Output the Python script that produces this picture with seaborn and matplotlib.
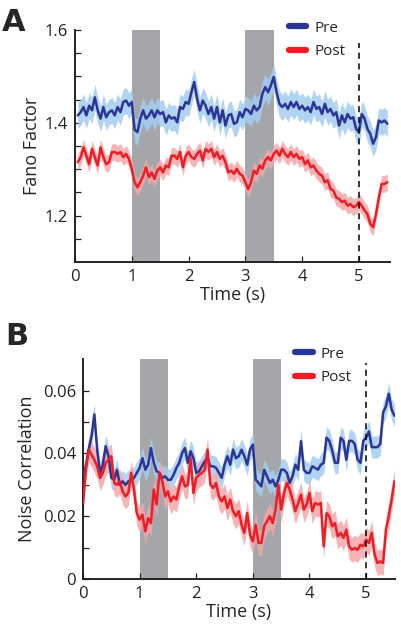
import numpy as np
import pandas as pd
import matplotlib
matplotlib.use("Agg")
import matplotlib.pyplot as plt
import seaborn as sns
from matplotlib.lines import Line2D

# ---------------- data ----------------
time_a = [round(0.05 * i, 2) for i in range(1, 111)]
fano_pre = [1.416, 1.423, 1.434, 1.416, 1.437, 1.427, 1.455, 1.427, 1.409, 1.434,
            1.412, 1.423, 1.427, 1.416, 1.434, 1.423, 1.445, 1.448, 1.437, 1.445,
            1.385, 1.380, 1.409, 1.427, 1.409, 1.416, 1.427, 1.412, 1.427, 1.419,
            1.423, 1.401, 1.416, 1.409, 1.412, 1.401, 1.434, 1.430, 1.445, 1.441,
            1.466, 1.488, 1.452, 1.427, 1.448, 1.437, 1.419, 1.434, 1.409, 1.434,
            1.401, 1.427, 1.394, 1.416, 1.419, 1.398, 1.401, 1.423, 1.412, 1.430,
            1.427, 1.419, 1.437, 1.427, 1.434, 1.463, 1.477, 1.466, 1.481, 1.499,
            1.466, 1.441, 1.434, 1.441, 1.430, 1.445, 1.434, 1.445, 1.430, 1.437,
            1.427, 1.434, 1.423, 1.445, 1.430, 1.434, 1.419, 1.441, 1.423, 1.430,
            1.416, 1.423, 1.394, 1.416, 1.401, 1.419, 1.409, 1.412, 1.387, 1.380,
            1.419, 1.409, 1.387, 1.376, 1.355, 1.369, 1.405, 1.401, 1.405, 1.398]
fano_post = [1.315, 1.326, 1.347, 1.329, 1.311, 1.344, 1.326, 1.308, 1.347, 1.326,
             1.311, 1.315, 1.337, 1.337, 1.333, 1.337, 1.326, 1.333, 1.322, 1.301,
             1.272, 1.261, 1.272, 1.286, 1.304, 1.283, 1.293, 1.279, 1.297, 1.304,
             1.293, 1.308, 1.304, 1.329, 1.329, 1.322, 1.337, 1.304, 1.329, 1.337,
             1.326, 1.322, 1.333, 1.340, 1.319, 1.344, 1.337, 1.344, 1.326, 1.337,
             1.322, 1.329, 1.315, 1.293, 1.297, 1.290, 1.301, 1.290, 1.286, 1.272,
             1.257, 1.272, 1.297, 1.290, 1.308, 1.301, 1.319, 1.326, 1.319, 1.333,
             1.340, 1.329, 1.344, 1.333, 1.326, 1.337, 1.326, 1.333, 1.322, 1.326,
             1.311, 1.319, 1.304, 1.308, 1.297, 1.290, 1.286, 1.272, 1.276, 1.257,
             1.254, 1.239, 1.236, 1.229, 1.232, 1.221, 1.225, 1.218, 1.221, 1.229,
             1.221, 1.211, 1.203, 1.182, 1.175, 1.203, 1.239, 1.268, 1.268, 1.272]
fano_pre_sem = 0.028
fano_post_sem = 0.018

time_b = [round(0.05 * i, 2) for i in range(0, 111)]
nc_pre = [0.0327, 0.0359, 0.0412, 0.0454, 0.0524, 0.0412, 0.0338, 0.0364, 0.0423, 0.0391,
          0.0322, 0.0316, 0.0348, 0.0300, 0.0311, 0.0300, 0.0311, 0.0316, 0.0322, 0.0338,
          0.0354, 0.0385, 0.0348, 0.0364, 0.0417, 0.0370, 0.0343, 0.0338, 0.0322, 0.0327,
          0.0316, 0.0316, 0.0332, 0.0354, 0.0370, 0.0401, 0.0417, 0.0370, 0.0407, 0.0385,
          0.0338, 0.0343, 0.0359, 0.0375, 0.0385, 0.0359, 0.0359, 0.0354, 0.0338, 0.0322,
          0.0364, 0.0391, 0.0364, 0.0412, 0.0385, 0.0391, 0.0412, 0.0391, 0.0364, 0.0412,
          0.0428, 0.0316, 0.0306, 0.0295, 0.0348, 0.0327, 0.0306, 0.0316, 0.0295, 0.0316,
          0.0348, 0.0348, 0.0338, 0.0306, 0.0327, 0.0364, 0.0348, 0.0439, 0.0348, 0.0338,
          0.0338, 0.0359, 0.0354, 0.0348, 0.0364, 0.0370, 0.0450, 0.0440, 0.0410, 0.0370,
          0.0370, 0.0450, 0.0440, 0.0380, 0.0440, 0.0440, 0.0430, 0.0380, 0.0370, 0.0440,
          0.0450, 0.0470, 0.0420, 0.0420, 0.0420, 0.0430, 0.0530, 0.0550, 0.0590, 0.0540,
          0.0520]
nc_post = [0.0242, 0.0348, 0.0412, 0.0396, 0.0380, 0.0359, 0.0322, 0.0338, 0.0370, 0.0380,
           0.0391, 0.0306, 0.0300, 0.0311, 0.0279, 0.0263, 0.0274, 0.0338, 0.0285, 0.0210,
           0.0189, 0.0205, 0.0152, 0.0194, 0.0178, 0.0285, 0.0237, 0.0338, 0.0311, 0.0263,
           0.0279, 0.0247, 0.0263, 0.0253, 0.0295, 0.0327, 0.0295, 0.0300, 0.0385, 0.0274,
           0.0322, 0.0332, 0.0338, 0.0348, 0.0412, 0.0300, 0.0290, 0.0306, 0.0263, 0.0247,
           0.0263, 0.0226, 0.0253, 0.0216, 0.0200, 0.0216, 0.0173, 0.0147, 0.0210, 0.0141,
           0.0120, 0.0173, 0.0115, 0.0115, 0.0168, 0.0184, 0.0200, 0.0178, 0.0221, 0.0300,
           0.0221, 0.0274, 0.0306, 0.0285, 0.0253, 0.0216, 0.0242, 0.0269, 0.0221, 0.0237,
           0.0274, 0.0216, 0.0242, 0.0237, 0.0242, 0.0104, 0.0210, 0.0200, 0.0168, 0.0178,
           0.0136, 0.0147, 0.0131, 0.0157, 0.0104, 0.0093, 0.0099, 0.0093, 0.0109, 0.0104,
           0.0125, 0.0115, 0.0147, 0.0078, 0.0051, 0.0056, 0.0051, 0.0157, 0.0200, 0.0253,
           0.0311]
nc_pre_sem = 0.0035
nc_post_sem = 0.0040

stim_windows = [(1.0, 1.5), (3.0, 3.5)]
series_names = ["Pre", "Post"]

# ---------------- style ----------------
sns.set_style("ticks")
plt.rcParams["font.family"] = ["Open Sans", "DejaVu Sans"]
plt.rcParams["xtick.direction"] = "in"
plt.rcParams["ytick.direction"] = "in"

line_colors = {"Pre": "#2b3595", "Post": "#ee1c25"}
band_colors = {"Pre": "#a3cdf0", "Post": "#f5a7aa"}
shade_color = "#a5a6a9"

fig = plt.figure(figsize=(4.01, 6.28), dpi=100)
axA = fig.add_axes([0.187, 0.583, 0.786, 0.369])
axB = fig.add_axes([0.207, 0.078, 0.778, 0.350])


def draw_panel(ax, t, pre, post, pre_sem, post_sem, ylim, xlim, dash_top):
    df = pd.DataFrame({
        "Time": list(t) * 2,
        "Value": list(pre) + list(post),
        "Condition": ["Pre"] * len(t) + ["Post"] * len(t),
    })
    for lo, hi in stim_windows:
        ax.axvspan(lo, hi, color=shade_color, lw=0, zorder=0)
    sems = {"Pre": pre_sem, "Post": post_sem}
    for name in series_names:
        sub = df[df["Condition"] == name]
        ax.fill_between(sub["Time"], sub["Value"] - sems[name], sub["Value"] + sems[name],
                        color=band_colors[name], alpha=0.85, lw=0, zorder=1)
    sns.lineplot(data=df, x="Time", y="Value", hue="Condition",
                 palette=line_colors, lw=1.8, ax=ax, legend=False, zorder=3)
    ax.set_xlim(*xlim)
    ax.set_ylim(*ylim)
    ax.axvline(5.0, ymin=0, ymax=dash_top, color="black", ls=(0, (4, 3)), lw=1.1,
               zorder=4)
    sns.despine(ax=ax)
    for s in ["left", "bottom"]:
        ax.spines[s].set_linewidth(1.4)
        ax.spines[s].set_color("#222222")
    ax.tick_params(axis="both", length=4, width=0.9, labelsize=12, colors="#222222",
                   pad=5)
    ax.tick_params(axis="y", which="minor", length=4, width=0.9, direction="in")
    ax.set_xticks([0, 1, 2, 3, 4, 5])
    ax.set_xlabel("Time (s)", fontsize=13, labelpad=1)


draw_panel(axA, time_a, fano_pre, fano_post, fano_pre_sem, fano_post_sem,
           (1.1, 1.6), (0, 5.55), 0.944)
axA.set_yticks([1.2, 1.4, 1.6])
axA.set_yticks(np.arange(1.15, 1.6, 0.05), minor=True)
axA.set_ylabel("Fano Factor", fontsize=13, labelpad=3)

draw_panel(axB, time_b, nc_pre, nc_post, nc_pre_sem, nc_post_sem,
           (0, 0.07), (0, 5.51), 0.985)
axB.set_yticks([0, 0.02, 0.04, 0.06])
axB.set_yticklabels(["0", "0.02", "0.04", "0.06"])
axB.set_yticks(np.arange(0.01, 0.07, 0.01), minor=True)
axB.set_ylabel("Noise Correlation", fontsize=13, labelpad=5)

handles = [Line2D([0], [0], color=line_colors[n], lw=4.5) for n in series_names]
for anchor in [(0.862, 0.967), (0.878, 0.448)]:
    fig.legend(handles, series_names, loc="upper right", bbox_to_anchor=anchor,
               frameon=False, fontsize=11, handlelength=1.15, handletextpad=0.55,
               labelspacing=0.55, borderaxespad=0, borderpad=0)

fig.text(0.005, 0.988, "A", fontsize=22, fontweight="bold", va="top", ha="left",
         family=["DejaVu Sans"])
fig.text(0.012, 0.488, "B", fontsize=22, fontweight="bold", va="top", ha="left",
         family=["DejaVu Sans"])

fig.savefig("out.png", dpi=100)
